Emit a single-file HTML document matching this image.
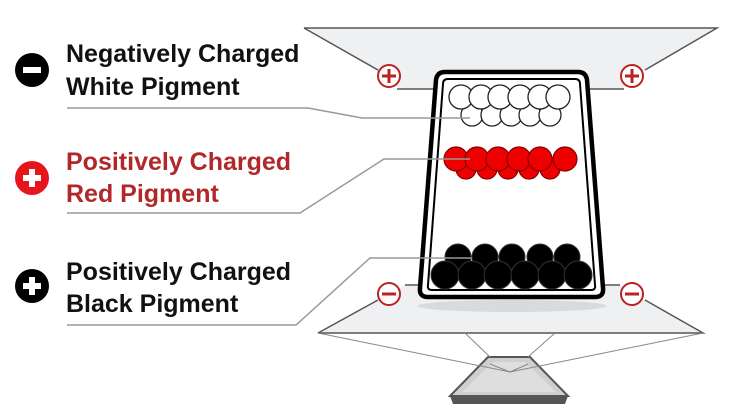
<!DOCTYPE html>
<html><head><style>
body{margin:0;width:740px;height:414px;background:#fff;overflow:hidden}
</style></head><body>
<svg width="740" height="414" xmlns="http://www.w3.org/2000/svg" font-family="Liberation Sans, sans-serif">
<polygon points="304,28 717,28 645,70 622,89 400,89 375,70" fill="#eef0f2"/>
<polyline points="304,28 717,28 645,70" fill="none" stroke="#555" stroke-width="1.5"/>
<polyline points="304,28 378,70" fill="none" stroke="#555" stroke-width="1.5"/>
<line x1="397" y1="89" x2="436" y2="89" stroke="#555" stroke-width="1.5"/>
<line x1="588" y1="89" x2="624" y2="89" stroke="#555" stroke-width="1.5"/>
<polygon points="378,300 405,285 620,285 645,300 703,333 318,333" fill="#eef0f2"/>
<polyline points="378,300 318,333 703,333 645,300" fill="none" stroke="#555" stroke-width="1.5"/>
<line x1="405" y1="285" x2="420" y2="285" stroke="#555" stroke-width="1.5"/>
<line x1="603" y1="285" x2="620" y2="285" stroke="#555" stroke-width="1.5"/>
<ellipse cx="512" cy="306" rx="95" ry="6" fill="#ccc" opacity="0.6"/>
<polygon points="488,357 530,357 568,396 450,396" fill="#cfcfcf" stroke="#555" stroke-width="2"/>
<polygon points="493,362 525,362 556,392 462,392" fill="#dedede"/>
<polygon points="450,396 568,396 565,404 453,404" fill="#555"/>
<g stroke="#888" stroke-width="1" fill="none">
<line x1="318" y1="333" x2="510" y2="372"/><line x1="703" y1="333" x2="510" y2="372"/>
<line x1="465" y1="333" x2="490" y2="357"/><line x1="555" y1="333" x2="528" y2="357"/>
<line x1="490" y1="364" x2="510" y2="372"/><line x1="528" y1="364" x2="510" y2="372"/>
</g>
<path d="M445,72 L578,72 Q586,72 587,80 L603,288 Q604,297 595,297 L428,297 Q419,297 420,288 L436,80 Q437,72 445,72 Z" fill="#fff" stroke="#000" stroke-width="4.5"/>
<path d="M448,79 L575,79 Q580,79 580,84 L595,285 Q596,290 591,290 L432,290 Q427,290 428,285 L443,84 Q443,79 448,79 Z" fill="none" stroke="#000" stroke-width="2"/>
<g fill="#fff" stroke="#222" stroke-width="1.3">
<circle cx="472" cy="115" r="11"/><circle cx="492" cy="115" r="11"/><circle cx="511" cy="115" r="11"/><circle cx="530" cy="115" r="11"/><circle cx="550" cy="115" r="11"/>
<circle cx="461" cy="97" r="12"/><circle cx="481" cy="97" r="12"/><circle cx="500" cy="97" r="12"/><circle cx="520" cy="97" r="12"/><circle cx="540" cy="97" r="12"/><circle cx="558" cy="97" r="12"/>
</g>
<g fill="#e00" stroke="#800" stroke-width="1.2">
<circle cx="466" cy="169" r="10"/><circle cx="487" cy="169" r="10"/><circle cx="508" cy="169" r="10"/><circle cx="529" cy="169" r="10"/><circle cx="550" cy="169" r="10"/>
<circle cx="456" cy="159" r="12"/><circle cx="477" cy="159" r="12"/><circle cx="498" cy="159" r="12"/><circle cx="519" cy="159" r="12"/><circle cx="540" cy="159" r="12"/><circle cx="565" cy="159" r="12"/>
</g>
<g fill="#000" stroke="#333" stroke-width="1">
<circle cx="458" cy="257" r="13"/><circle cx="485" cy="257" r="13"/><circle cx="512" cy="257" r="13"/><circle cx="540" cy="257" r="13"/><circle cx="567" cy="257" r="13"/>
<circle cx="445" cy="275" r="14"/><circle cx="472" cy="275" r="14"/><circle cx="498" cy="275" r="14"/><circle cx="525" cy="275" r="14"/><circle cx="552" cy="275" r="14"/><circle cx="578" cy="275" r="14"/>
</g>
<g fill="#fff" stroke="#b22" stroke-width="2">
<circle cx="389" cy="76" r="11"/><circle cx="632" cy="76" r="11"/><circle cx="389" cy="294" r="11"/><circle cx="632" cy="294" r="11"/>
</g>
<g stroke="#b22" stroke-width="3">
<line x1="382" y1="76" x2="396" y2="76"/><line x1="389" y1="69" x2="389" y2="83"/>
<line x1="625" y1="76" x2="639" y2="76"/><line x1="632" y1="69" x2="632" y2="83"/>
<line x1="382" y1="294" x2="396" y2="294"/><line x1="625" y1="294" x2="639" y2="294"/>
</g>
<g stroke="#999" stroke-width="1.5" fill="none">
<polyline points="67,108 308,108 362,118 470,118"/>
<polyline points="67,213 300,213 384,159 470,159"/>
<polyline points="67,325 296,325 370,258 472,258"/>
</g>
<circle cx="32" cy="70" r="17" fill="#000"/><rect x="23" y="67" width="18" height="6" fill="#fff"/>
<circle cx="32" cy="178" r="17" fill="#e8141c"/><rect x="23" y="175" width="18" height="6" fill="#fff"/><rect x="29" y="169" width="6" height="18" fill="#fff"/>
<circle cx="32" cy="286" r="17" fill="#000"/><rect x="23" y="283" width="18" height="6" fill="#fff"/><rect x="29" y="277" width="6" height="18" fill="#fff"/>
<g font-size="25" font-weight="bold">
<text x="66" y="62" fill="#111">Negatively Charged</text>
<text x="66" y="95" fill="#111">White Pigment</text>
<text x="66" y="170" fill="#b0282a">Positively Charged</text>
<text x="66" y="202" fill="#b0282a">Red Pigment</text>
<text x="66" y="280" fill="#111">Positively Charged</text>
<text x="66" y="312" fill="#111">Black Pigment</text>
</g>
</svg>
</body></html>
